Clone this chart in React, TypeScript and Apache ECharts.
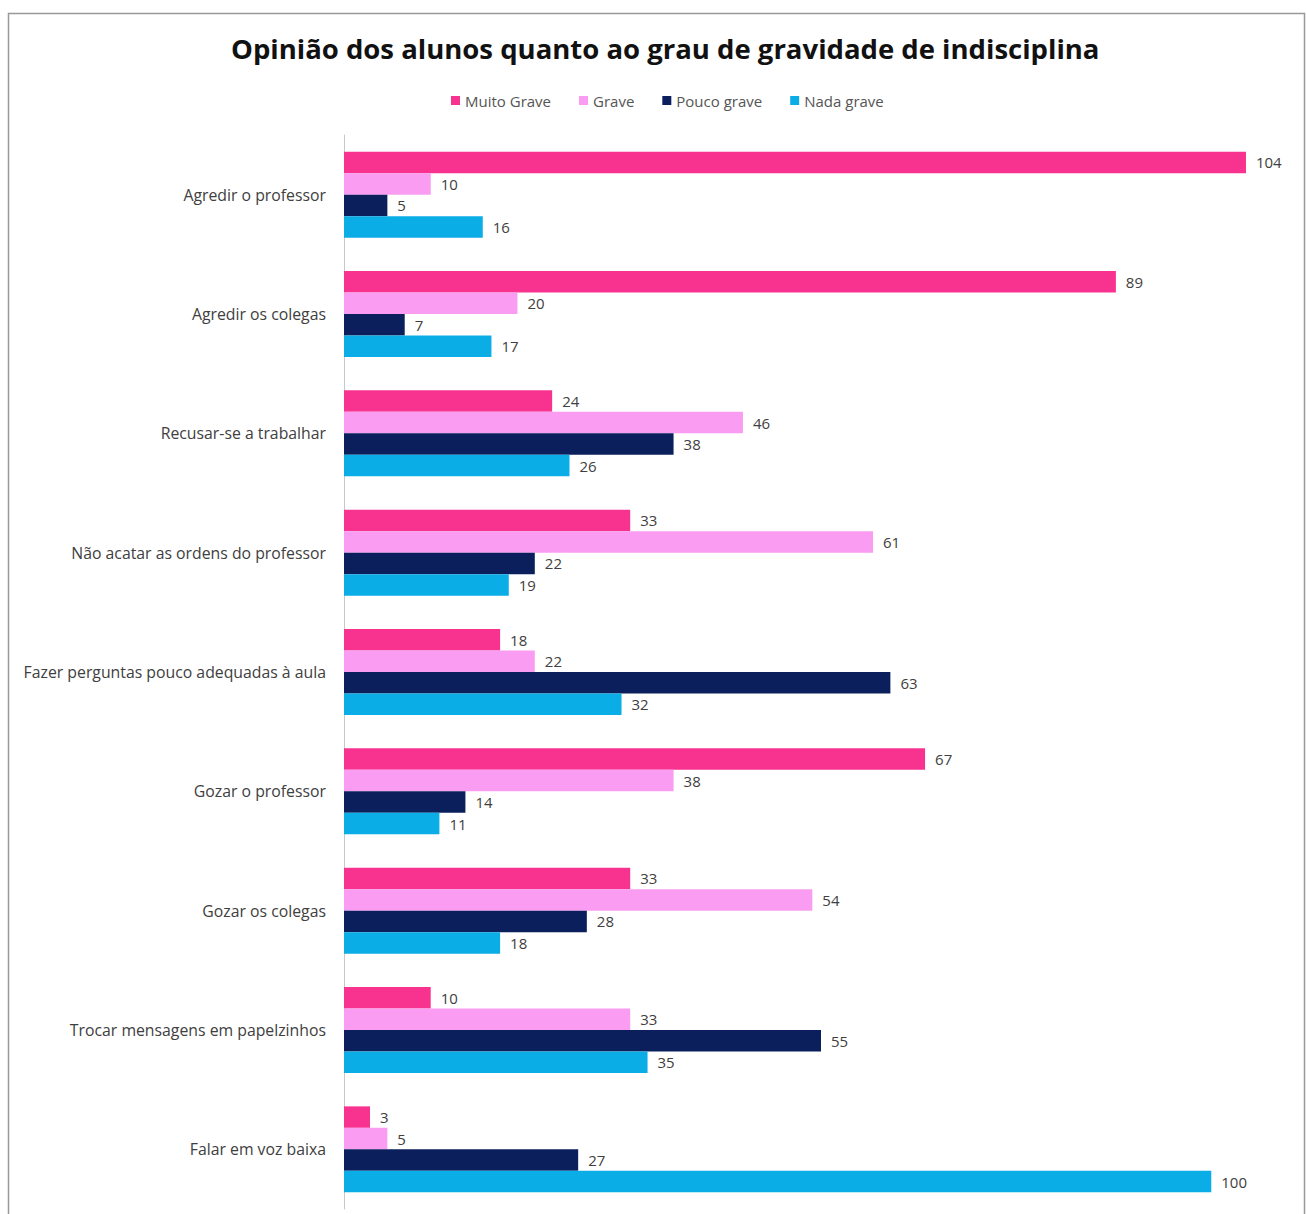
import React, { useEffect, useRef } from "react";
import * as echarts from "echarts";

const categories = [
  "Agredir o professor",
  "Agredir os colegas",
  "Recusar-se a trabalhar",
  "Não acatar as ordens do professor",
  "Fazer perguntas pouco adequadas à aula",
  "Gozar o professor",
  "Gozar os colegas",
  "Trocar mensagens em papelzinhos",
  "Falar em voz baixa",
];
const muitoGrave = [104, 89, 24, 33, 18, 67, 33, 10, 3];
const grave = [10, 20, 46, 61, 22, 38, 54, 33, 5];
const poucoGrave = [5, 7, 38, 22, 63, 14, 28, 55, 27];
const nadaGrave = [16, 17, 26, 19, 32, 11, 18, 35, 100];
const seriesNames = ["Muito Grave", "Grave", "Pouco grave", "Nada grave"];
const colors = ["#F7338F", "#F99CF2", "#0B1F5C", "#0AADE6"];

export default function App() {
  const ref = useRef<HTMLDivElement>(null);
  useEffect(() => {
    document.body.style.margin = "0";
    const chart = echarts.init(ref.current!, null, { renderer: "svg" });
    const font = "'Open Sans', sans-serif";
    const data = [muitoGrave, grave, poucoGrave, nadaGrave];
    chart.setOption({
      animation: false,
      backgroundColor: "#fff",
      textStyle: { fontFamily: font },
      title: {
        text: "Opinião dos alunos quanto ao grau de gravidade de indisciplina",
        left: 226,
        top: 29,
        textStyle: { fontSize: 27.5, fontWeight: "bold", color: "#111", fontFamily: font },
      },
      legend: {
        top: 88,
        left: 446,
        itemWidth: 9,
        itemHeight: 9,
        itemGap: 28,
        icon: "rect",
        textStyle: { fontSize: 15, color: "#555", fontFamily: font },
        data: seriesNames,
      },
      graphic: [
        {
          type: "rect",
          shape: { x: 8.5, y: 13.5, width: 1296, height: 1210 },
          style: { fill: "none", stroke: "#999", lineWidth: 1.5 },
          silent: true,
        },
      ],
      grid: { left: 344, top: 135, width: 954, height: 1074, containLabel: false },
      xAxis: {
        type: "value",
        min: 0,
        max: 110,
        show: false,
      },
      yAxis: {
        type: "category",
        inverse: true,
        data: categories,
        axisLine: { show: true, lineStyle: { color: "#C8C8C8", width: 1 } },
        axisTick: { show: false },
        axisLabel: { fontSize: 15.8, color: "#404040", margin: 18, fontFamily: font },
      },
      series: seriesNames.map((name, i) => ({
        name,
        type: "bar",
        data: data[i],
        barCategoryGap: "28%",
        barGap: "0%",
        itemStyle: { color: colors[i] },
        label: {
          show: true,
          position: "right",
          distance: 10,
          fontSize: 15,
          color: "#404040",
          fontFamily: font,
        },
      })),
    });
    return () => chart.dispose();
  }, []);
  return <div ref={ref} style={{ width: 1306, height: 1214 }} />;
}
